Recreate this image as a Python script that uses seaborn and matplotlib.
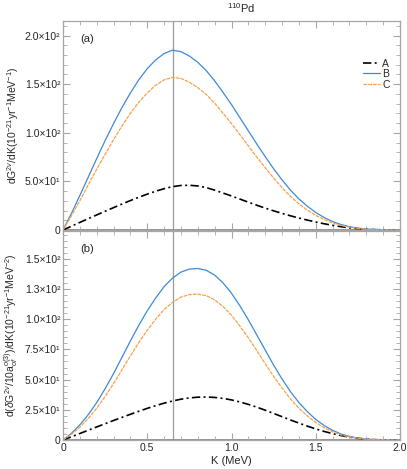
import numpy as np
import pandas as pd
import seaborn as sns
import matplotlib
matplotlib.use("Agg")
from matplotlib import pyplot as plt
from matplotlib.ticker import MultipleLocator

# kinetic energy grid (MeV)
K = [0.00, 0.05, 0.10, 0.15, 0.20, 0.25, 0.30, 0.35, 0.40, 0.45,
     0.50, 0.55, 0.60, 0.65, 0.70, 0.75, 0.80, 0.85, 0.90, 0.95,
     1.00, 1.05, 1.10, 1.15, 1.20, 1.25, 1.30, 1.35, 1.40, 1.45,
     1.50, 1.55, 1.60, 1.65, 1.70, 1.75, 1.80, 1.85, 1.90, 1.95, 2.00]

# panel (a): dG/dK
a_A = [0, 3.9, 7.8, 11.7, 15.5, 19.3, 23, 26.7, 30.3, 33.7,
       36.9, 39.9, 42.5, 44.6, 45.8, 46, 45.3, 43.6, 41, 38,
       35, 31.8, 28.6, 25.5, 22.5, 19.7, 17.1, 14.6, 12.3, 10.2,
       8.2, 6.4, 4.8, 3.4, 2.3, 1.4, 0.8, 0.4, 0.15, 0.03, 0]
a_B = [0, 17, 35.5, 54.5, 73.5, 92, 109.5, 126, 141, 154.5,
       166, 175, 181.5, 185, 183.5, 179, 172.5, 164, 153.5, 141.5,
       129, 115.5, 102, 88.5, 75.5, 63, 51.5, 41, 32, 24.5,
       18, 12.8, 8.7, 5.6, 3.4, 1.9, 0.95, 0.4, 0.13, 0.02, 0]
a_C = [0, 14.5, 30, 46.5, 62.5, 78, 93, 107, 120, 131.5,
       141, 149, 154.5, 157, 156, 152, 146.5, 139.5, 130.5, 120,
       109.5, 98, 86.5, 75, 64, 53.5, 43.5, 34.5, 27, 20.5,
       15, 10.7, 7.2, 4.6, 2.8, 1.55, 0.78, 0.33, 0.1, 0.02, 0]

# panel (b): d(dG/10a)/dK
b_A = [0, 2.7, 5.4, 8.1, 10.8, 13.5, 16.15, 18.75, 21.3, 23.8,
       26.2, 28.45, 30.5, 32.3, 33.8, 34.85, 35.45, 35.6, 35.25, 34.45,
       33.2, 31.5, 29.5, 27.2, 24.7, 22, 19.3, 16.6, 14, 11.5,
       9.2, 7.1, 5.3, 3.7, 2.4, 1.4, 0.7, 0.3, 0.1, 0.02, 0]
b_B = [0, 5.5, 12.5, 21, 31, 42.5, 55, 68.5, 82, 95,
       107, 117.5, 127, 134, 139, 141.5, 142, 140.5, 136.5, 130,
       121.5, 111, 99.5, 87, 74.5, 62, 50.5, 40, 31, 23.5,
       17, 12, 8, 5, 3, 1.6, 0.8, 0.35, 0.1, 0.02, 0]
b_C = [0, 4.7, 10.6, 17.8, 26.3, 36.1, 46.7, 58.2, 69.7, 80.7,
       91, 100, 108, 114, 118.3, 120.4, 120.8, 119.5, 116, 110.5,
       103.3, 94.3, 84.6, 74, 63.3, 52.7, 43, 34, 26.3, 20,
       14.5, 10.2, 6.8, 4.2, 2.5, 1.35, 0.68, 0.3, 0.08, 0.02, 0]

x_ticks = [0, 0.5, 1.0, 1.5, 2.0]
x_labels = ["0", "0.5", "1.0", "1.5", "2.0"]
a_yticks = [0, 50, 100, 150, 200]
a_ylabels = ["0", "5.0×10¹", "1.0×10²", "1.5×10²", "2.0×10²"]
b_yticks = [0, 25, 50, 75, 100, 125, 150]
b_ylabels = ["0", "2.5×10¹", "5.0×10¹", "7.5×10¹", "1.0×10²", "1.3×10²", "1.5×10²"]
K_mark = 0.65

sns.set_style("ticks")
plt.rcParams['font.family'] = ['Liberation Sans', 'DejaVu Sans']
plt.rcParams['mathtext.fontset'] = 'custom'
plt.rcParams['mathtext.rm'] = 'Liberation Sans'
plt.rcParams['mathtext.it'] = 'Liberation Sans:italic'

frame = "#a6a6a6"
styles = {"A": ("black", (0, (5, 2, 1.2, 2)), 1.2),
          "B": ("#3d8ad9", "-", 0.9),
          "C": ("#f7a14c", (0, (3, 0.8)), 0.9)}

fig = plt.figure(figsize=(4.07, 4.69), dpi=100)
ax1 = fig.add_axes([0.1548, 0.5096, 0.828, 0.4456])
ax2 = fig.add_axes([0.1548, 0.0618, 0.828, 0.4456])

panels = [(ax1, {"A": a_A, "B": a_B, "C": a_C}, a_yticks, a_ylabels, 215, 10, "(a)"),
          (ax2, {"A": b_A, "B": b_B, "C": b_C}, b_yticks, b_ylabels, 173, 5, "(b)")]

for ax, series, yt, yl, ytop, yminor, tag in panels:
    for name, vals in series.items():
        col, ls, lw = styles[name]
        sns.lineplot(x=K, y=vals, ax=ax, color=col, linestyle=ls, linewidth=lw,
                     label=name, legend=False)
    ax.axvline(K_mark, color="#9a9a9a", lw=0.9, zorder=0)
    ax.axhline(0, color="#8a8a8a", lw=1.3, zorder=0)
    ax.set_xlim(0, 2.0)
    ax.set_ylim(0, ytop)
    ax.set_xticks(x_ticks)
    ax.xaxis.set_minor_locator(MultipleLocator(0.1))
    ax.set_yticks(yt)
    ax.set_yticklabels(yl)
    ax.yaxis.set_minor_locator(MultipleLocator(yminor))
    ax.tick_params(which="both", direction="in", top=True, right=True,
                   color=frame, labelsize=7.5, pad=2)
    ax.tick_params(which="major", length=5, width=0.8)
    ax.tick_params(which="minor", length=2.8, width=0.6)
    for sp in ax.spines.values():
        sp.set_color(frame)
        sp.set_linewidth(0.9)
    ax.text(0.05, 0.9, tag, transform=ax.transAxes, fontsize=8)

ax1.set_xticklabels([])
ax2.set_xticklabels(x_labels)
ax2.set_xlabel("K (MeV)", fontsize=8, labelpad=2)
ax1.set_ylabel(r"dG$^{2\nu}$/dK(10$^{-21}$yr$^{-1}$MeV$^{-1}$)", fontsize=7.5, labelpad=3)
ax2.set_ylabel(r"d($\delta$G$^{2\nu}$/10a$^{o(3)}_{of}$)/dK(10$^{-21}$yr$^{-1}$MeV$^{-2}$)",
               fontsize=7.5, labelpad=3)
ax1.legend(loc="upper right", bbox_to_anchor=(0.985, 0.845), frameon=False, fontsize=7.5,
           handlelength=1.6, handletextpad=0.2, labelspacing=0.05, borderpad=0)
ax1.set_title(r"$^{110}$Pd", fontsize=8, pad=6, x=0.53)

fig.savefig("out.png", dpi=100)
